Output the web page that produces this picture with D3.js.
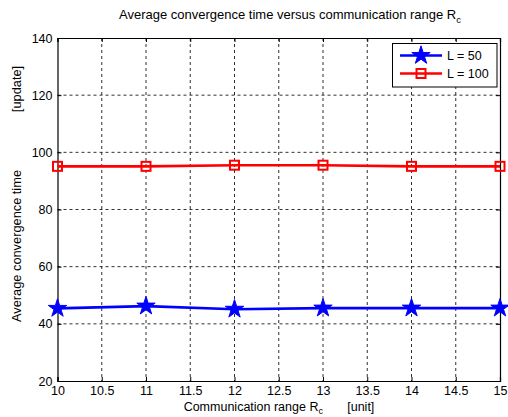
<!DOCTYPE html>
<html>
<head>
<meta charset="utf-8">
<script src="https://cdn.jsdelivr.net/npm/d3@7"></script>
<style>
  html, body { margin: 0; padding: 0; background: #fff; }
  svg { display: block; font-family: Arial, "Liberation Sans", sans-serif; }
</style>
</head>
<body>
<svg id="chart" width="508" height="417"></svg>
<script>
// Communication range values (x) and average convergence time per network size
const ranges = [10, 11, 12, 13, 14, 15];
const timeL50 = [45.4, 46.2, 45.1, 45.5, 45.5, 45.5];
const timeL100 = [95.1, 95.1, 95.5, 95.5, 95.1, 95.1];
const xTicks = [10, 10.5, 11, 11.5, 12, 12.5, 13, 13.5, 14, 14.5, 15];
const yTicks = [20, 40, 60, 80, 100, 120, 140];
const seriesNames = ["L = 50", "L = 100"];

const svg = d3.select("#chart");
const plotLeft = 57.5, plotRight = 500, plotTop = 38, plotBottom = 381;

const x = d3.scaleLinear().domain([10, 15]).range([plotLeft, plotRight]);
const y = d3.scaleLinear().domain([20, 140]).range([plotBottom, plotTop]);

// dashed grid
const grid = svg.append("g").attr("stroke", "#000").attr("stroke-width", 0.9)
  .attr("stroke-dasharray", "3,3").attr("opacity", 0.9);
grid.selectAll(".gx").data(xTicks.slice(1, -1)).join("line")
  .attr("x1", d => x(d)).attr("x2", d => x(d)).attr("y1", plotTop).attr("y2", plotBottom);
grid.selectAll(".gy").data(yTicks.slice(1, -1)).join("line")
  .attr("y1", d => y(d)).attr("y2", d => y(d)).attr("x1", plotLeft).attr("x2", plotRight);

// axes with inward ticks on all four sides
const tickLen = 4;
const axB = svg.append("g").attr("transform", `translate(0,${plotBottom})`)
  .call(d3.axisBottom(x).tickValues(xTicks).tickFormat(d3.format("")).tickSize(-tickLen).tickPadding(5));
const axT = svg.append("g").attr("transform", `translate(0,${plotTop})`)
  .call(d3.axisTop(x).tickValues(xTicks).tickFormat("").tickSize(-tickLen));
const axL = svg.append("g").attr("transform", `translate(${plotLeft},0)`)
  .call(d3.axisLeft(y).tickValues(yTicks).tickSize(-tickLen).tickPadding(5));
const axR = svg.append("g").attr("transform", `translate(${plotRight},0)`)
  .call(d3.axisRight(y).tickValues(yTicks).tickFormat("").tickSize(-tickLen));
[axB, axT, axL, axR].forEach(a => {
  a.select(".domain").attr("stroke", "#000").attr("stroke-width", 1.2);
  a.selectAll(".tick line").attr("stroke", "#000");
  a.selectAll("text").attr("fill", "#000").style("font-size", "12.5px")
    .style("font-family", "Arial, 'Liberation Sans', sans-serif");
});
axB.selectAll("text").attr("dy", "0.71em");

// series lines and markers
const line = d3.line().x((d, i) => x(ranges[i])).y(d => y(d));
const star = d3.symbol().type(d3.symbolStar).size(105);

svg.append("path").datum(timeL100).attr("d", line)
  .attr("fill", "none").attr("stroke", "#ff0000").attr("stroke-width", 2.6);
svg.selectAll(".sq").data(timeL100).join("rect")
  .attr("x", (d, i) => x(ranges[i]) - 4.5).attr("y", d => y(d) - 4.5)
  .attr("width", 9).attr("height", 9)
  .attr("fill", "none").attr("stroke", "#ff0000").attr("stroke-width", 2);

svg.append("path").datum(timeL50).attr("d", line)
  .attr("fill", "none").attr("stroke", "#0000ff").attr("stroke-width", 2.6);
svg.selectAll(".st").data(timeL50).join("path")
  .attr("d", star).attr("transform", (d, i) => `translate(${x(ranges[i])},${y(d)})`)
  .attr("fill", "#0000ff").attr("stroke", "#0000ff").attr("stroke-width", 1);

// legend
const lg = svg.append("g");
lg.append("rect").attr("x", 392.5).attr("y", 43.5).attr("width", 104.5).attr("height", 43.5)
  .attr("fill", "#fff").attr("stroke", "#000").attr("stroke-width", 1);
const rowY = [55.5, 73.5];
lg.append("line").attr("x1", 400).attr("x2", 442).attr("y1", rowY[0]).attr("y2", rowY[0])
  .attr("stroke", "#0000ff").attr("stroke-width", 2.6);
lg.append("path").attr("d", star).attr("transform", `translate(421,${rowY[0]})`)
  .attr("fill", "#0000ff").attr("stroke", "#0000ff");
lg.append("line").attr("x1", 400).attr("x2", 442).attr("y1", rowY[1]).attr("y2", rowY[1])
  .attr("stroke", "#ff0000").attr("stroke-width", 2.6);
lg.append("rect").attr("x", 416.5).attr("y", rowY[1] - 4.5).attr("width", 9).attr("height", 9)
  .attr("fill", "none").attr("stroke", "#ff0000").attr("stroke-width", 2);
lg.selectAll(".lt").data(seriesNames).join("text")
  .attr("x", 447).attr("y", (d, i) => rowY[i]).attr("dy", "0.35em")
  .style("font-size", "12.5px").text(d => d);

// title
const title = svg.append("text").attr("x", 290).attr("y", 19).attr("text-anchor", "middle")
  .style("font-size", "13px");
title.append("tspan").text("Average convergence time versus communication range R");
title.append("tspan").attr("dy", 4).style("font-size", "9.5px").text("c");

// x axis label
const xl = svg.append("text").attr("x", 279).attr("y", 411).attr("text-anchor", "middle")
  .style("font-size", "12.5px");
xl.append("tspan").text("Communication range R");
xl.append("tspan").attr("dy", 3).style("font-size", "9px").text("c");
xl.append("tspan").attr("dy", -3).text("\u00a0\u00a0\u00a0\u00a0\u00a0\u00a0\u00a0[unit]");

// y axis label
svg.append("text").attr("transform", "translate(21,246) rotate(-90)")
  .attr("text-anchor", "middle").style("font-size", "12.8px").text("Average convergence time");
svg.append("text").attr("transform", "translate(21,89) rotate(-90)")
  .attr("text-anchor", "middle").style("font-size", "12.8px").text("[update]");
</script>
</body>
</html>
